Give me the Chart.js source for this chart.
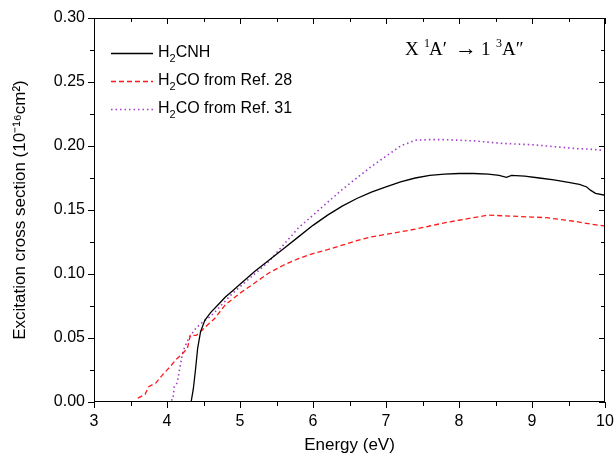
<!DOCTYPE html>
<html>
<head>
<meta charset="utf-8">
<script src="https://cdn.jsdelivr.net/npm/chart.js@4"></script>
<style>
  html, body { margin: 0; padding: 0; background: #fff; }
  #wrap { width: 614px; height: 454px; }
</style>
</head>
<body>
<div id="wrap"><canvas id="chart"></canvas></div>
<script>
// Values (energy in eV, cross section in 1e-16 cm^2)
const h2cnhE = [4.33, 4.36, 4.39, 4.42, 4.46, 4.52, 4.6, 4.7, 4.8, 4.9, 5.0, 5.2, 5.4, 5.6, 5.8, 6.0,
  6.2, 6.4, 6.6, 6.8, 7.0, 7.2, 7.4, 7.6, 7.8, 8.0, 8.2, 8.4, 8.55, 8.65, 8.72, 8.9, 9.1, 9.3, 9.5,
  9.65, 9.75, 9.8, 9.87, 10];
const h2cnhV = [0, 0.01, 0.025, 0.042, 0.055, 0.064, 0.070, 0.076, 0.082, 0.087, 0.092, 0.102, 0.111,
  0.120, 0.129, 0.138, 0.146, 0.153, 0.159, 0.164, 0.168, 0.172, 0.175, 0.177, 0.178, 0.1785, 0.1785,
  0.178, 0.177, 0.1755, 0.177, 0.1765, 0.175, 0.1735, 0.1715, 0.17, 0.168, 0.1655, 0.163, 0.1615];

const ref28E = [3.6, 3.7, 3.75, 3.85, 3.95, 4.05, 4.12, 4.2, 4.28, 4.32, 4.4, 4.48, 4.55, 4.65, 4.8,
  5.0, 5.2, 5.4, 5.6, 5.8, 6.0, 6.2, 6.4, 6.6, 6.8, 7.0, 7.2, 7.4, 7.6, 7.8, 8.0, 8.2, 8.4, 8.6, 8.8,
  9.0, 9.2, 9.4, 9.6, 9.8, 10];
const ref28V = [0.003, 0.006, 0.012, 0.015, 0.022, 0.028, 0.033, 0.037, 0.042, 0.052, 0.052, 0.056,
  0.060, 0.065, 0.076, 0.085, 0.093, 0.101, 0.107, 0.112, 0.116, 0.119, 0.1225, 0.126, 0.129, 0.131,
  0.133, 0.135, 0.1375, 0.14, 0.142, 0.144, 0.146, 0.1455, 0.145, 0.1445, 0.144, 0.1425, 0.141,
  0.139, 0.1375];

const ref31E = [4.0, 4.08, 4.1, 4.14, 4.18, 4.22, 4.3, 4.4, 4.5, 4.6, 4.7, 4.8, 4.9, 5.0, 5.2, 5.4,
  5.6, 5.8, 6.0, 6.2, 6.4, 6.6, 6.8, 7.0, 7.2, 7.4, 7.6, 7.8, 8.0, 8.2, 8.4, 8.6, 8.8, 9.0, 9.2, 9.4,
  9.6, 9.8, 10];
const ref31V = [0, 0.002, 0.012, 0.015, 0.028, 0.04, 0.05, 0.058, 0.063, 0.067, 0.073, 0.079, 0.085,
  0.090, 0.100, 0.110, 0.123, 0.136, 0.146, 0.156, 0.166, 0.175, 0.184, 0.192, 0.200, 0.2045, 0.205,
  0.205, 0.2045, 0.204, 0.203, 0.202, 0.2015, 0.201, 0.2, 0.199, 0.198, 0.1975, 0.1965];

const xTickStep = 1;
const yTickStep = 0.05;

const toPts = (xs, ys) => xs.map((x, i) => ({ x, y: ys[i] }));

const SANS = '"Liberation Sans", Arial, sans-serif';
const SERIF = '"Liberation Serif", "Times New Roman", serif';

const series = [
  { label: ['H', '2', 'CNH'], data: toPts(h2cnhE, h2cnhV), color: '#000000', dash: [], width: 1.3 },
  { label: ['H', '2', 'CO from Ref. 28'], data: toPts(ref28E, ref28V), color: '#ff1a1a', dash: [5, 3], width: 1.3 },
  { label: ['H', '2', 'CO from Ref. 31'], data: toPts(ref31E, ref31V), color: '#a33cc8', dash: [1.5, 3], width: 1.6 },
];

// Frame, mirrored ticks, minor ticks, legend and the transition label
const decor = {
  id: 'decor',
  afterDatasetsDraw(chart) {
    const { ctx, chartArea: a, scales: { x, y } } = chart;
    ctx.save();
    ctx.strokeStyle = '#000';
    ctx.lineWidth = 1;
    ctx.setLineDash([]);
    ctx.strokeRect(a.left + 0.5, a.top + 0.5, a.right - a.left - 1, a.bottom - a.top - 1);
    ctx.beginPath();
    for (let v = x.min; v <= x.max + 1e-9; v += xTickStep / 2) {
      const px = Math.round(x.getPixelForValue(v)) + 0.5;
      const major = Math.abs(v - Math.round(v)) < 1e-6;
      const len = major ? 6 : 4;
      ctx.moveTo(px, a.bottom); ctx.lineTo(px, a.bottom + len);
      ctx.moveTo(px, a.top); ctx.lineTo(px, a.top + len);
    }
    for (let v = y.min; v <= y.max + 1e-9; v += yTickStep / 2) {
      const py = Math.round(y.getPixelForValue(v)) + 0.5;
      const major = Math.abs(v / yTickStep - Math.round(v / yTickStep)) < 1e-6;
      const len = major ? 6 : 4;
      ctx.moveTo(a.left, py); ctx.lineTo(a.left - len, py);
      ctx.moveTo(a.right, py); ctx.lineTo(a.right - len, py);
    }
    ctx.stroke();
    ctx.restore();
  },
  afterDraw(chart) {
    const { ctx } = chart;
    ctx.save();
    const rows = [53, 81, 109];
    series.forEach((s, i) => {
      const yy = rows[i];
      ctx.strokeStyle = s.color;
      ctx.lineWidth = s.width;
      ctx.setLineDash(s.dash);
      ctx.beginPath();
      ctx.moveTo(111, yy + 0.5); ctx.lineTo(153, yy + 0.5);
      ctx.stroke();
      ctx.setLineDash([]);
      ctx.fillStyle = '#000';
      ctx.textBaseline = 'middle';
      ctx.textAlign = 'left';
      let tx = 158;
      ctx.font = '16px ' + SANS;
      ctx.fillText(s.label[0], tx, yy);
      tx += ctx.measureText(s.label[0]).width;
      ctx.font = '11px ' + SANS;
      ctx.fillText(s.label[1], tx, yy + 6);
      tx += ctx.measureText(s.label[1]).width;
      ctx.font = '16px ' + SANS;
      ctx.fillText(s.label[2], tx, yy);
    });
    // X 1A' -> 1 3A''
    ctx.textBaseline = 'alphabetic';
    const big = '19px ' + SERIF, small = '12px ' + SERIF, arrow = '22px ' + SERIF;
    const parts = [
      ['X', 405, 55, big], ['1', 424, 47, small], ['A\u2032', 429, 55, big],
      ['\u2192', 455, 55, arrow], ['1', 481, 55, big], ['3', 496, 47, small], ['A\u2033', 502, 55, big],
    ];
    parts.forEach(([t, px, py, f]) => { ctx.font = f; ctx.fillText(t, px, py); });
    ctx.restore();
  },
};

new Chart(document.getElementById('chart'), {
  type: 'line',
  data: {
    datasets: series.map(s => ({
      data: s.data,
      borderColor: s.color,
      borderDash: s.dash,
      borderWidth: s.width,
      pointRadius: 0,
      tension: 0,
      fill: false,
    })),
  },
  options: {
    responsive: true,
    maintainAspectRatio: false,
    animation: false,
    events: [],
    layout: { padding: { top: 18, right: 9, left: 0, bottom: 0 } },
    plugins: { legend: { display: false }, tooltip: { enabled: false } },
    scales: {
      x: {
        type: 'linear',
        min: 3, max: 10,
        grid: { display: false, drawTicks: false },
        border: { display: false },
        ticks: { stepSize: xTickStep, color: '#000', padding: 10, font: { family: SANS, size: 16 } },
        title: { display: true, text: 'Energy (eV)', color: '#000', padding: 0,
                 font: { family: SANS, size: 17, lineHeight: 1 } },
        afterFit(s) { s.height = 52; s.paddingLeft = 0; s.paddingRight = 0; },
      },
      y: {
        min: 0, max: 0.30,
        grid: { display: false, drawTicks: false },
        border: { display: false },
        ticks: { stepSize: yTickStep, color: '#000', padding: 9, font: { family: SANS, size: 16 },
                 callback: v => v.toFixed(2) },
        title: { display: true, text: 'Excitation cross section (10\u207B\u00B9\u2076cm\u00B2)', color: '#000',
                 padding: { top: 12, bottom: 0 }, font: { family: SANS, size: 17, lineHeight: 1 } },
        afterFit(s) { s.width = 94; s.paddingTop = 0; s.paddingBottom = 0; },
      },
    },
  },
  plugins: [decor],
});
</script>
</body>
</html>
